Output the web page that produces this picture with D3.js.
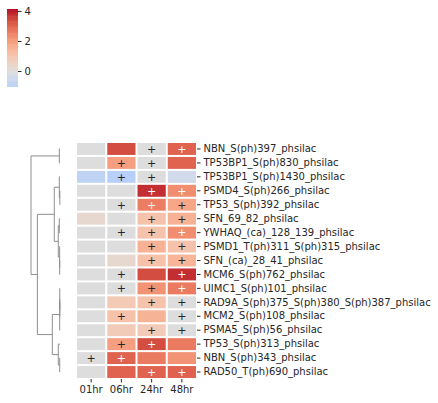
<!DOCTYPE html>
<meta charset="utf-8">
<script src="https://d3js.org/d3.v7.min.js"></script>
<style>
  body { margin: 0; background: #fff; }
  svg text { font-family: "DejaVu Sans", sans-serif; }
</style>
<div id="chart"></div>
<script>
  // column and row labels
  var timepoints = ["01hr", "06hr", "24hr", "48hr"];
  var sites = [
    "NBN_S(ph)397_phsilac", "TP53BP1_S(ph)830_phsilac", "TP53BP1_S(ph)1430_phsilac",
    "PSMD4_S(ph)266_phsilac", "TP53_S(ph)392_phsilac", "SFN_69_82_phsilac",
    "YWHAQ_(ca)_128_139_phsilac", "PSMD1_T(ph)311_S(ph)315_phsilac", "SFN_(ca)_28_41_phsilac",
    "MCM6_S(ph)762_phsilac", "UIMC1_S(ph)101_phsilac", "RAD9A_S(ph)375_S(ph)380_S(ph)387_phsilac",
    "MCM2_S(ph)108_phsilac", "PSMA5_S(ph)56_phsilac", "TP53_S(ph)313_phsilac",
    "NBN_S(ph)343_phsilac", "RAD50_T(ph)690_phsilac"
  ];

  // log2 ratio per time point (one value per site)
  var v01 = [0, 0, -0.85, 0, 0, 0.3, 0, 0, 0, 0, 0, 0, 0, 0, 0, 0, 0];
  var v06 = [3.4, 1.95, -1.03, 0, 0, 0, 0, 0, 0.3, 0, 0, 0.85, 1.1, 0.8, 1.95, 3.05, 3.05];
  var v24 = [0, 0, 0, 3.8, 2.6, 1.07, 1.07, 1.55, 1.1, 3.4, 2.2, 1.05, 1.5, 0.8, 3.4, 2.65, 3.05];
  var v48 = [3.05, 3.05, -0.4, 2.3, 1.8, 1.55, 2.3, 1.05, 1.45, 3.8, 2.65, 0, 0, 0, 2.65, 2.2, 3.05];

  // significance marks per time point (1 = "+")
  var s01 = [0, 0, 0, 0, 0, 0, 0, 0, 0, 0, 0, 0, 0, 0, 0, 1, 0];
  var s06 = [0, 1, 1, 0, 1, 0, 1, 0, 0, 1, 1, 0, 1, 0, 1, 1, 0];
  var s24 = [1, 1, 1, 1, 1, 1, 1, 1, 1, 0, 1, 1, 0, 1, 1, 0, 1];
  var s48 = [1, 0, 0, 1, 1, 1, 1, 1, 1, 1, 1, 1, 1, 1, 0, 0, 1];

  // colour limits (centre 0) and colorbar ticks
  var colorLimits = [-1.03, 4.13];
  var cbarTicks = [0, 2, 4];

  // row linkage: [left, right, height]; leaves 0..16, merges numbered from 17
  var linkage = [
    [3, 4, 0.005], [2, 17, 0.024], [0, 1, 0.024], [5, 6, 0.024],
    [8, 9, 0.01], [7, 21, 0.012], [20, 22, 0.059], [18, 23, 0.197],
    [11, 12, 0.005], [10, 25, 0.008], [26, 13, 0.01], [15, 16, 0.01],
    [14, 28, 0.059], [27, 29, 0.266], [24, 30, 0.78], [19, 31, 1.0]
  ];

  var values = [v01, v06, v24, v48];
  var marks = [s01, s06, s24, s48];

  // matplotlib coolwarm control points
  var coolwarm = [
    [59,76,192],[68,90,204],[77,104,215],[87,117,225],[98,130,234],[108,142,241],
    [119,154,247],[130,165,251],[141,176,254],[152,185,255],[163,194,255],[174,201,253],
    [184,208,249],[194,213,244],[204,217,238],[213,219,230],[221,221,221],[229,216,209],
    [236,211,197],[241,204,185],[245,196,173],[247,187,160],[247,177,148],[247,166,135],
    [244,154,123],[241,141,111],[236,127,99],[229,112,88],[222,96,77],[213,80,66],
    [203,62,56],[192,40,47],[180,4,38]
  ].map(function (c) { return d3.rgb(c[0], c[1], c[2]); });
  var cw = d3.scaleLinear()
    .domain(d3.range(coolwarm.length).map(function (i) { return i / (coolwarm.length - 1); }))
    .range(coolwarm)
    .interpolate(d3.interpolateRgb)
    .clamp(true);

  var vmin = colorLimits[0], vmax = colorLimits[1];
  var vrange = Math.max(vmax, -vmin);
  var color = function (v) { return cw((v + vrange) / (2 * vrange)); };

  function luminance(c) {
    var ch = [c.r, c.g, c.b].map(function (u) {
      u = u / 255;
      return u <= 0.03928 ? u / 12.92 : Math.pow((u + 0.055) / 1.055, 2.4);
    });
    return 0.2126 * ch[0] + 0.7152 * ch[1] + 0.0722 * ch[2];
  }

  var svg = d3.select("#chart").append("svg")
    .attr("width", 438).attr("height", 403);

  var x = d3.scaleBand().domain(timepoints).range([76, 197]);
  var y = d3.scaleBand().domain(sites).range([142, 379]);

  // cells
  var cells = [];
  values.forEach(function (col, j) {
    col.forEach(function (v, i) {
      cells.push({ t: timepoints[j], s: sites[i], v: v, m: marks[j][i] });
    });
  });

  svg.append("g").selectAll("rect")
    .data(cells)
    .enter()
    .append("rect")
    .attr("x", function (d) { return x(d.t) + 1; })
    .attr("y", function (d) { return y(d.s) + 1; })
    .attr("width", x.bandwidth() - 2)
    .attr("height", y.bandwidth() - 2)
    .attr("fill", function (d) { return color(d.v); });

  svg.append("g").selectAll("text")
    .data(cells.filter(function (d) { return d.m; }))
    .enter()
    .append("text")
    .attr("x", function (d) { return x(d.t) + x.bandwidth() / 2; })
    .attr("y", function (d) { return y(d.s) + y.bandwidth() / 2; })
    .attr("dy", "0.35em")
    .attr("text-anchor", "middle")
    .attr("font-size", 11)
    .attr("fill", function (d) { return luminance(d3.rgb(color(d.v))) > 0.408 ? "#262626" : "#ffffff"; })
    .text("+");

  // axes
  var yAxis = svg.append("g")
    .attr("transform", "translate(197,0)")
    .call(d3.axisRight(y).tickSize(3.5).tickPadding(3));
  var xAxis = svg.append("g")
    .attr("transform", "translate(0,379)")
    .call(d3.axisBottom(x).tickSize(3.5).tickPadding(3));
  [yAxis, xAxis].forEach(function (g) {
    g.select(".domain").remove();
    g.selectAll("line").attr("stroke", "#262626");
    g.selectAll("text").attr("font-size", 10).attr("fill", "#262626")
      .style("font-family", "'DejaVu Sans', sans-serif");
  });

  // dendrogram
  var hx = d3.scaleLinear().domain([0, 1]).range([60, 31]);
  var nodes = sites.map(function (s) { return { y: y(s) + y.bandwidth() / 2, h: 0 }; });
  var tree = svg.append("g")
    .attr("fill", "none")
    .attr("stroke", "#8e8e8e")
    .attr("stroke-width", 1);
  linkage.forEach(function (l) {
    var a = nodes[l[0]], b = nodes[l[1]];
    tree.append("path")
      .attr("d", "M" + hx(a.h) + "," + a.y + "H" + hx(l[2]) + "V" + b.y + "H" + hx(b.h));
    nodes.push({ y: (a.y + b.y) / 2, h: l[2] });
  });

  // colorbar
  var cy = d3.scaleLinear().domain([vmin, vmax]).range([86.5, 9]);
  var steps = d3.range(0, 64).map(function (i) { return vmin + (vmax - vmin) * i / 64; });
  var dv = (vmax - vmin) / 64;
  svg.append("g").selectAll("rect")
    .data(steps)
    .enter()
    .append("rect")
    .attr("x", 7)
    .attr("width", 11)
    .attr("y", function (d) { return cy(d + dv); })
    .attr("height", function (d) { return cy(d) - cy(d + dv) + 0.5; })
    .attr("fill", function (d) { return color(d + dv / 2); });

  var cAxis = svg.append("g")
    .attr("transform", "translate(18,0)")
    .call(d3.axisRight(cy).tickValues(cbarTicks).tickSize(3.5).tickPadding(3).tickFormat(d3.format("d")));
  cAxis.select(".domain").remove();
  cAxis.selectAll("line").attr("stroke", "#262626");
  cAxis.selectAll("text").attr("font-size", 10).attr("fill", "#262626")
    .style("font-family", "'DejaVu Sans', sans-serif");
</script>
